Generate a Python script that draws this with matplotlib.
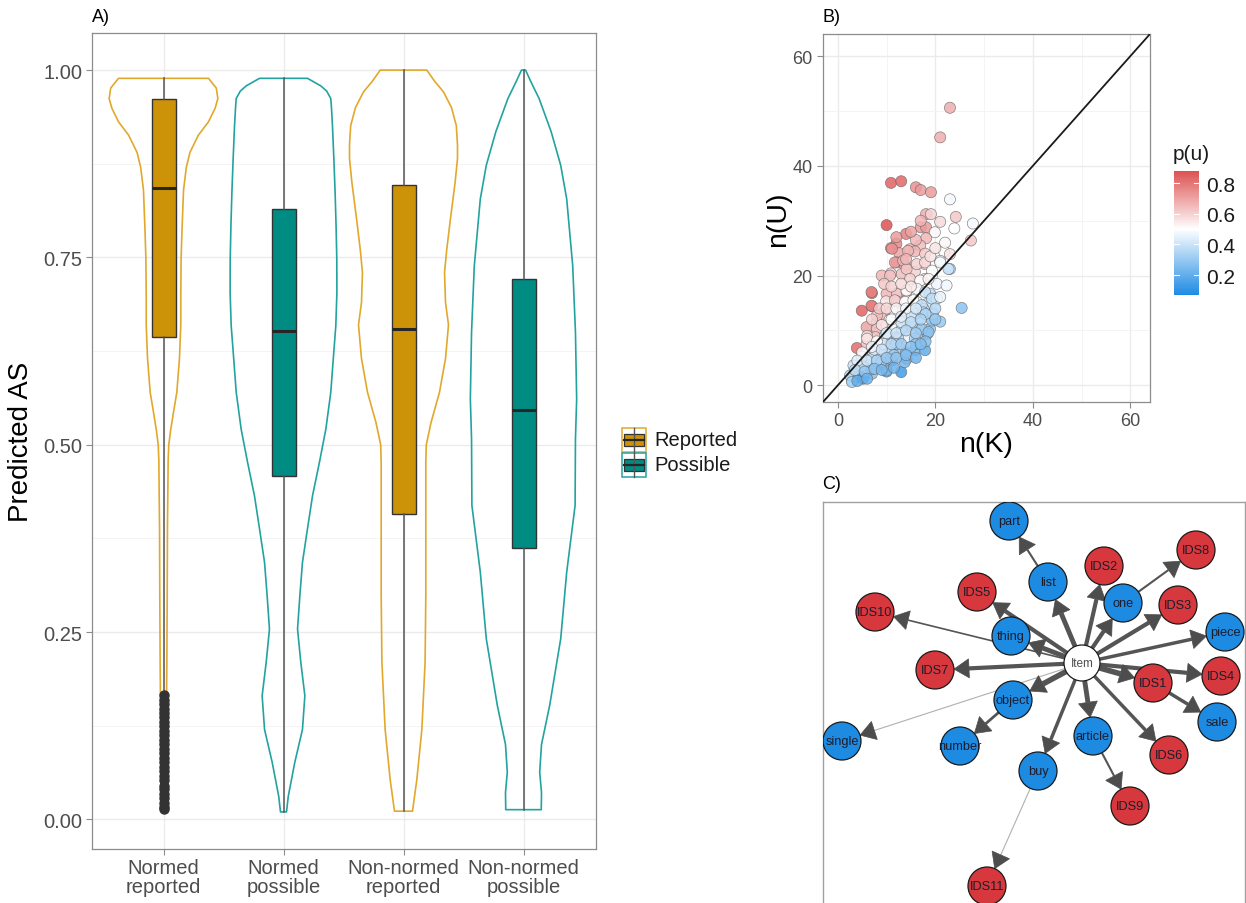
import numpy as np
import matplotlib
matplotlib.use("Agg")
import matplotlib.pyplot as plt
from matplotlib.colors import LinearSegmentedColormap, Normalize
from matplotlib.patches import Circle, Polygon, Rectangle
from matplotlib.ticker import FixedLocator

plt.rcParams["font.family"] = ["Liberation Sans", "DejaVu Sans"]

W, H = 1246, 904

# ── Panel A data ────────────────────────────────────────────────────────────
categories = ["Normed\nreported", "Normed\npossible", "Non-normed\nreported", "Non-normed\npossible"]
groups = ["Reported", "Possible", "Reported", "Possible"]

# box statistics
q1 = [0.644, 0.458, 0.407, 0.362]
med = [0.843, 0.652, 0.655, 0.547]
q3 = [0.961, 0.815, 0.847, 0.721]
wlo = [0.170, 0.010, 0.011, 0.013]
whi = [0.989, 0.989, 1.000, 1.000]
outliers1 = [0.166, 0.160, 0.154, 0.148, 0.142, 0.136, 0.130, 0.124, 0.118, 0.112,
             0.106, 0.100, 0.094, 0.088, 0.082, 0.076, 0.070, 0.064, 0.058, 0.052,
             0.045, 0.040, 0.034, 0.028, 0.022, 0.017, 0.014]

# violin outlines: y value and half width (in category units)
v1_y = [0.013, 0.05, 0.10, 0.17, 0.21, 0.30, 0.39, 0.48, 0.50, 0.52, 0.545, 0.57, 0.615,
        0.66, 0.70, 0.75, 0.79, 0.84, 0.87, 0.89, 0.913, 0.931, 0.949, 0.962, 0.976, 0.989]
v1_w = [0.012, 0.022, 0.025, 0.026, 0.028, 0.031, 0.033, 0.039, 0.044, 0.060, 0.085, 0.111,
        0.133, 0.144, 0.144, 0.147, 0.155, 0.167, 0.19, 0.22, 0.29, 0.375, 0.43, 0.453, 0.44, 0.375]
v2_y = [0.010, 0.031, 0.076, 0.12, 0.165, 0.21, 0.254, 0.30, 0.343, 0.388, 0.432, 0.477,
        0.521, 0.57, 0.615, 0.659, 0.704, 0.748, 0.793, 0.837, 0.88, 0.926, 0.949, 0.962,
        0.972, 0.979, 0.989]
v2_w = [0.025, 0.040, 0.094, 0.158, 0.178, 0.144, 0.117, 0.137, 0.158, 0.200, 0.242, 0.300,
        0.353, 0.394, 0.415, 0.436, 0.445, 0.444, 0.438, 0.430, 0.420, 0.408, 0.400, 0.394,
        0.360, 0.310, 0.200]
v3_y = [0.011, 0.053, 0.12, 0.21, 0.30, 0.477, 0.50, 0.53, 0.57, 0.615, 0.66, 0.69, 0.73,
        0.76, 0.80, 0.85, 0.882, 0.90, 0.926, 0.95, 0.971, 0.985, 1.0]
v3_w = [0.075, 0.111, 0.153, 0.180, 0.186, 0.186, 0.190, 0.230, 0.300, 0.350, 0.375, 0.350,
        0.342, 0.360, 0.390, 0.430, 0.450, 0.450, 0.440, 0.400, 0.333, 0.260, 0.194]
v4_y = [0.013, 0.036, 0.063, 0.10, 0.152, 0.241, 0.33, 0.419, 0.508, 0.561, 0.65, 0.739,
        0.828, 0.873, 0.918, 0.962, 0.985, 1.0]
v4_w = [0.148, 0.150, 0.135, 0.150, 0.218, 0.310, 0.360, 0.430, 0.433, 0.443, 0.433, 0.410,
        0.360, 0.310, 0.230, 0.130, 0.060, 0.017]

# ── Panel B data: n(K), n(U), p(u) ──────────────────────────────────────────
nk = [23.0, 21.0, 10.9, 13.0, 16.0, 17.0, 19.1, 23.0, 18.1, 19.1, 21.0, 24.2, 27.7, 23.9,
      10.0, 17.0, 18.1, 19.9, 14.0, 18.1, 27.3, 12.0, 10.9, 14.8, 16.9, 21.8, 23.0, 12.6,
      15.8, 21.0, 23.0, 12.1, 13.8, 17.9, 9.0, 10.9, 13.1, 15.8, 17.9, 16.5, 19.3, 20.3,
      22.3, 7.0, 10.0, 12.1, 14.1, 9.9, 12.1, 14.1, 16.2, 18.9, 20.3, 18.2, 4.9, 7.0,
      9.0, 10.9, 13.1, 15.8, 17.6, 25.4, 5.9, 8.0, 10.6, 12.8, 14.8, 16.9, 18.9, 21.0,
      8.0, 10.0, 12.1, 14.1, 16.5, 18.4, 3.9, 5.9, 8.7, 10.7, 12.8, 15.8, 17.9, 4.9,
      7.0, 9.0, 11.1, 14.1, 3.2, 6.3, 8.7, 10.0, 13.0, 2.9, 4.9, 7.0, 3.2, 11.1, 14.4,
      17.9, 11.7, 13.4, 14.1, 16.2, 17.9, 19.3, 21.0, 22.7, 10.7, 14.8, 16.9, 18.6, 6.9,
      14.1, 16.2, 17.9, 19.3, 21.0, 11.7, 13.8, 15.5, 17.2, 6.9, 8.0, 11.7, 13.4, 17.5,
      19.3, 8.0, 10.0, 11.4, 13.1, 15.2, 17.2, 18.6, 7.7, 9.7, 12.4, 15.8, 6.9, 8.9,
      10.9, 13.7, 4.9, 6.9, 10.0, 2.5, 4.2, 5.2, 2.9, 12.0, 14.0, 16.0, 9.5, 11.5, 13.0,
      15.0, 19.5, 6.0, 7.5,
      9.5, 11.0, 13.0, 15.0, 8.5, 10.0, 12.0, 14.0, 16.0, 18.0, 20.0, 7.0, 9.0, 11.0,
      13.0, 15.0, 17.0, 20.0, 6.0, 8.0, 10.0, 12.0, 14.0, 16.0, 18.0, 5.0, 7.0, 9.0,
      11.0, 13.0, 15.0, 17.0, 4.0, 6.0, 8.0, 10.0, 12.0, 14.0, 16.0, 3.5, 5.5, 7.5,
      9.0, 11.5, 4.0, 6.0, 12.0, 14.0, 16.0, 19.0, 20.0, 22.0, 17.0, 15.0]
nu = [50.6, 45.2, 36.9, 37.2, 36.1, 35.6, 35.2, 33.9, 31.2, 31.2, 29.8, 30.7, 29.5, 28.6,
      29.2, 28.8, 28.8, 27.9, 27.6, 26.8, 26.4, 25.8, 25.0, 24.8, 25.5, 24.4, 23.9, 24.1,
      24.4, 22.7, 21.2, 22.4, 21.8, 22.1, 20.0, 20.4, 20.3, 20.7, 19.4, 18.8, 20.0, 18.5,
      18.2, 16.8, 16.7, 16.7, 17.0, 15.3, 15.3, 15.5, 15.2, 16.7, 15.8, 14.8, 13.6, 14.4,
      13.0, 13.3, 13.6, 13.0, 13.9, 14.1, 10.6, 11.5, 11.9, 10.3, 11.2, 10.3, 10.3, 11.6,
      9.4, 8.5, 8.8, 8.8, 8.8, 9.4, 6.8, 7.6, 6.7, 6.7, 6.7, 6.4, 6.4, 5.2,
      5.2, 5.5, 4.5, 4.8, 3.6, 3.6, 3.9, 2.5, 2.4, 0.9, 1.5, 2.1, 2.1, 24.9, 24.5,
      24.0, 22.4, 22.7, 21.2, 22.1, 22.4, 20.9, 22.4, 21.2, 20.0, 19.4, 19.1, 19.4, 17.0,
      17.3, 17.6, 17.0, 15.8, 16.1, 15.5, 15.2, 15.5, 14.6, 14.5, 12.7, 13.3, 13.6, 13.3,
      11.8, 10.3, 10.9, 10.6, 10.3, 10.9, 10.3, 9.7, 8.8, 9.1, 8.5, 8.5, 4.8, 4.2,
      4.8, 4.2, 3.5, 2.9, 2.7, 1.8, 1.5, 1.2, 0.6, 7.5, 6.0, 7.5, 7.5, 5.5, 11.5,
      12.5, 13.0, 9.0, 6.5,
      18.5, 18.0, 18.5, 18.0, 14.0, 14.0, 14.0, 14.0, 14.0, 13.0, 14.0, 12.0, 11.0, 12.0,
      12.5, 11.5, 12.0, 12.0, 8.5, 8.0, 9.5, 9.5, 10.0, 9.5, 8.0, 6.0, 7.0, 6.5,
      7.5, 7.5, 7.0, 7.5, 4.5, 4.5, 4.5, 5.0, 5.0, 5.5, 5.0, 2.8, 2.5, 3.0,
      2.8, 3.2, 0.8, 1.2, 27.0, 23.0, 26.5, 23.5, 25.0, 26.0, 30.0, 28.0]
pu = [0.68, 0.68, 0.84, 0.83, 0.74, 0.72, 0.72, 0.48, 0.68, 0.60, 0.58, 0.62, 0.48, 0.50,
      0.88, 0.72, 0.72, 0.52, 0.78, 0.66, 0.62, 0.76, 0.76, 0.66, 0.64, 0.50, 0.56, 0.70,
      0.66, 0.48, 0.35, 0.72, 0.70, 0.62, 0.66, 0.62, 0.64, 0.60, 0.60, 0.58, 0.48, 0.47,
      0.47, 0.80, 0.66, 0.64, 0.60, 0.56, 0.64, 0.58, 0.48, 0.38, 0.45, 0.40, 0.84, 0.78,
      0.66, 0.62, 0.50, 0.40, 0.40, 0.28, 0.70, 0.64, 0.50, 0.48, 0.38, 0.35, 0.30, 0.30,
      0.62, 0.38, 0.36, 0.46, 0.34, 0.28, 0.82, 0.64, 0.48, 0.36, 0.32, 0.24, 0.20, 0.48,
      0.40, 0.36, 0.26, 0.24, 0.40, 0.36, 0.28, 0.20, 0.14, 0.36, 0.12, 0.28, 0.34, 0.74, 0.66,
      0.62, 0.72, 0.66, 0.62, 0.60, 0.58, 0.50, 0.48, 0.40, 0.64, 0.60, 0.50, 0.52, 0.78,
      0.50, 0.48, 0.40, 0.38, 0.46, 0.60, 0.50, 0.50, 0.38, 0.78, 0.64, 0.48, 0.48, 0.36,
      0.28, 0.64, 0.56, 0.48, 0.40, 0.38, 0.30, 0.28, 0.62, 0.40, 0.36, 0.34, 0.38, 0.30,
      0.28, 0.24, 0.36, 0.26, 0.24, 0.36, 0.24, 0.12, 0.34, 0.32, 0.28, 0.28, 0.42, 0.30, 0.42,
      0.40, 0.40, 0.58, 0.44,
      0.62, 0.60, 0.58, 0.55, 0.62, 0.58, 0.52, 0.48, 0.42, 0.34, 0.36, 0.60, 0.56, 0.50,
      0.44, 0.38, 0.34, 0.30, 0.56, 0.50, 0.44, 0.40, 0.36, 0.32, 0.26, 0.52, 0.46, 0.40,
      0.36, 0.32, 0.28, 0.26, 0.44, 0.40, 0.34, 0.30, 0.28, 0.26, 0.22, 0.38, 0.30, 0.28,
      0.24, 0.22, 0.20, 0.22, 0.72, 0.66, 0.66, 0.56, 0.56, 0.52, 0.66, 0.70]

# ── Panel C data: network layout (panel pixel coords) ───────────────────────
node_names = ["Item", "part", "list", "IDS2", "IDS8", "one", "IDS3", "IDS5", "IDS10", "thing",
              "piece", "IDS7", "IDS1", "IDS4", "object", "sale", "single", "number",
              "article", "IDS6", "buy", "IDS9", "IDS11"]
node_x = [259, 186, 225, 281, 373, 300, 355, 154, 52, 188, 402, 112, 330, 398, 190, 394,
          19, 137, 270, 346, 215, 307, 164]
node_y = [161, 19, 80, 64, 48, 101, 103, 90, 110, 134, 130, 168, 181, 174, 198, 220, 239,
          244, 234, 253, 269, 304, 384]
node_kind = ["center", "word", "word", "ids", "ids", "word", "ids", "ids", "ids", "word",
             "word", "ids", "ids", "ids", "word", "word", "word", "word", "word", "ids",
             "word", "ids", "ids"]
edge_src = ["Item"] * 16 + ["list", "object", "buy", "article", "IDS1", "one"]
edge_dst = ["list", "IDS2", "one", "IDS3", "piece", "IDS4", "IDS1", "IDS6", "article", "buy",
            "object", "IDS7", "thing", "IDS5", "IDS10", "single",
            "part", "number", "IDS11", "IDS9", "sale", "IDS8"]
edge_w = [3.5, 3.0, 3.0, 3.0, 2.5, 3.0, 4.0, 2.5, 3.5, 2.5, 4.0, 3.0, 3.5, 3.0, 1.2, 0.8,
          1.5, 2.0, 0.8, 1.5, 2.5, 1.5]

GOLD, GOLD_LINE = "#CC9309", "#E2A82C"
TEAL, TEAL_LINE = "#008B83", "#22A3A0"
RED, BLUE = "#D7383D", "#1E8BE3"
GRID = "#EBEBEB"
TICK = "#4D4D4D"
FRAME = "#8C8C8C"

fig = plt.figure(figsize=(W / 100, H / 100), dpi=100)


def style_frame(ax, size, pad=3.5):
    for s in ax.spines.values():
        s.set_color(FRAME)
        s.set_linewidth(0.9)
    ax.tick_params(which="major", length=4, color=FRAME, labelcolor=TICK, labelsize=size,
                   pad=pad)
    ax.tick_params(which="minor", length=0)
    ax.grid(which="major", color=GRID, lw=1.0, zorder=0)
    ax.grid(which="minor", color="#F3F3F3", lw=0.6, zorder=0)
    ax.set_axisbelow(True)


# ══ Panel A: violins + boxplots ═══════════════════════════════════════════
axA = fig.add_axes([91.5 / W, 1 - 850 / H, 504 / W, 816 / H])
style_frame(axA, 14.5, pad=2.5)
violins = [(v1_y, v1_w), (v2_y, v2_w), (v3_y, v3_w), (v4_y, v4_w)]
for i, ((vy, vw), g) in enumerate(zip(violins, groups)):
    c = i + 1
    col = GOLD_LINE if g == "Reported" else TEAL_LINE
    vw = np.asarray(vw)
    axA.fill_betweenx(vy, c - vw, c + vw, facecolor="none", edgecolor=col, lw=1.2, zorder=2)

stats = []
for i in range(4):
    stats.append(dict(q1=q1[i], med=med[i], q3=q3[i], whislo=wlo[i], whishi=whi[i],
                      fliers=outliers1 if i == 0 else []))
bp = axA.bxp(stats, positions=[1, 2, 3, 4], widths=0.2, patch_artist=True, showcaps=False,
             boxprops=dict(edgecolor="#333333", lw=1.0),
             medianprops=dict(color="#262626", lw=2.2),
             whiskerprops=dict(color="#555555", lw=1.1),
             flierprops=dict(marker="o", markerfacecolor="#333333", markeredgecolor="#333333",
                             markersize=6.5), zorder=3)
for box, g in zip(bp["boxes"], groups):
    box.set_facecolor(GOLD if g == "Reported" else TEAL)

axA.set_xlim(0.4, 4.6)
axA.set_ylim(-0.0395, 1.0495)
axA.set_xticks([1, 2, 3, 4], categories)
for lbl in axA.get_xticklabels():
    lbl.set_linespacing(1.0)
axA.set_yticks([0, 0.25, 0.5, 0.75, 1.0], ["0.00", "0.25", "0.50", "0.75", "1.00"])
axA.yaxis.set_minor_locator(FixedLocator([0.125, 0.375, 0.625, 0.875]))
axA.set_ylabel("Predicted AS", fontsize=20, labelpad=7)
fig.text(92 / W, 1 - 17 / H, "A)", fontsize=13, va="center", ha="left")

# legend
axL = fig.add_axes([615 / W, 1 - 485 / H, 150 / W, 65 / H])
axL.set_xlim(615, 765)
axL.set_ylim(485, 420)
axL.axis("off")
for j, (lab, fc, lc) in enumerate([("Reported", GOLD, GOLD_LINE), ("Possible", TEAL, TEAL_LINE)]):
    y0 = 429 + j * 25
    axL.add_patch(Rectangle((622, y0), 24, 24, facecolor="white", edgecolor=lc, lw=1.1))
    axL.plot([634, 634], [y0, y0 + 24], color="#555555", lw=1.0)
    axL.add_patch(Rectangle((624, y0 + 6), 20, 12, facecolor=fc, edgecolor="#333333", lw=0.9))
    axL.plot([624, 644], [y0 + 12, y0 + 12], color="#262626", lw=1.6)
    axL.text(654, y0 + 12, lab, fontsize=14.5, va="center", ha="left", color="#1A1A1A")

# ══ Panel B: scatter ══════════════════════════════════════════════════════
cmap = LinearSegmentedColormap.from_list("pu", [BLUE, "#FFFFFF", "#D93B3B"])
norm = Normalize(vmin=0.07, vmax=0.93)
axB = fig.add_axes([823 / W, 1 - 403 / H, 327 / W, 368 / H])
style_frame(axB, 13)
sc = axB.scatter(nk, nu, c=pu, cmap=cmap, norm=norm, s=64, edgecolors="#666666",
                 linewidths=0.45, alpha=0.85, zorder=3)
axB.axline((0, 0), slope=1, color="#1A1A1A", lw=1.3, zorder=4)
axB.set_xlim(-3.05, 64.05)
axB.set_ylim(-3.05, 64.05)
axB.set_xticks([0, 20, 40, 60])
axB.set_yticks([0, 20, 40, 60])
axB.xaxis.set_minor_locator(FixedLocator([10, 30, 50]))
axB.yaxis.set_minor_locator(FixedLocator([10, 30, 50]))
axB.set_xlabel("n(K)", fontsize=20.5, labelpad=1)
axB.set_ylabel("n(U)", fontsize=20.5, labelpad=1)
fig.text(822 / W, 1 - 17 / H, "B)", fontsize=13, va="center", ha="left")

cax = fig.add_axes([1174 / W, 1 - 296 / H, 25 / W, 124 / H])
cb = fig.colorbar(sc, cax=cax, boundaries=np.linspace(0.07, 0.88, 200))
cb.solids.set_alpha(1)
cb.outline.set_visible(False)
cb.set_ticks([0.2, 0.4, 0.6, 0.8], labels=["0.2", "0.4", "0.6", "0.8"])
cax.tick_params(length=0, labelsize=15, labelcolor="#1A1A1A", pad=5)
for t in [0.2, 0.4, 0.6, 0.8]:
    cax.plot([0, 0.2], [t, t], color="white", lw=0.8)
    cax.plot([0.8, 1.0], [t, t], color="white", lw=0.8)
fig.text(1173 / W, 1 - 154 / H, "p(u)", fontsize=15, va="center", ha="left", color="#1A1A1A")

# ══ Panel C: network ══════════════════════════════════════════════════════
axC = fig.add_axes([823 / W, 1 - 912 / H, 422 / W, 409 / H])
axC.set_xlim(0, 422)
axC.set_ylim(409, 0)
axC.set_xticks([])
axC.set_yticks([])
for s in axC.spines.values():
    s.set_color("#A0A0A0")
    s.set_linewidth(1.0)
fig.text(822 / W, 1 - 485 / H, "C)", fontsize=13, va="center", ha="left")

pos = {n: (x, y) for n, x, y in zip(node_names, node_x, node_y)}
kind = dict(zip(node_names, node_kind))
R_NODE, R_CENTER = 19, 18
HEAD_L, HEAD_W = 15, 9.5
for s, d, lw in zip(edge_src, edge_dst, edge_w):
    p0, p1 = np.array(pos[s], float), np.array(pos[d], float)
    u = (p1 - p0) / np.hypot(*(p1 - p0))
    nrm = np.array([-u[1], u[0]])
    r0 = R_CENTER if kind[s] == "center" else R_NODE
    a = p0 + u * r0
    tip = p1 - u * R_NODE
    base = tip - u * HEAD_L
    lc = "#B0B0B0" if lw < 1 else "#555555"
    axC.plot([a[0], base[0]], [a[1], base[1]], color=lc, lw=lw, solid_capstyle="butt", zorder=2)
    axC.add_patch(Polygon([tip, base + nrm * HEAD_W, base - nrm * HEAD_W], closed=True,
                          facecolor="#4D4D4D", edgecolor="#4D4D4D", lw=0.5, zorder=2.5))

for n in node_names:
    x, y = pos[n]
    k = kind[n]
    fc = "white" if k == "center" else (RED if k == "ids" else BLUE)
    r = R_CENTER if k == "center" else R_NODE
    axC.add_patch(Circle((x, y), r, facecolor=fc, edgecolor="#1A1A1A", lw=0.9, zorder=3))
    axC.text(x, y, n, fontsize=9.2 if k != "center" else 8.5, ha="center", va="center",
             color="#4D4D4D" if k == "center" else "#1C1C2C", zorder=4)

fig.savefig("out.png", dpi=100)
